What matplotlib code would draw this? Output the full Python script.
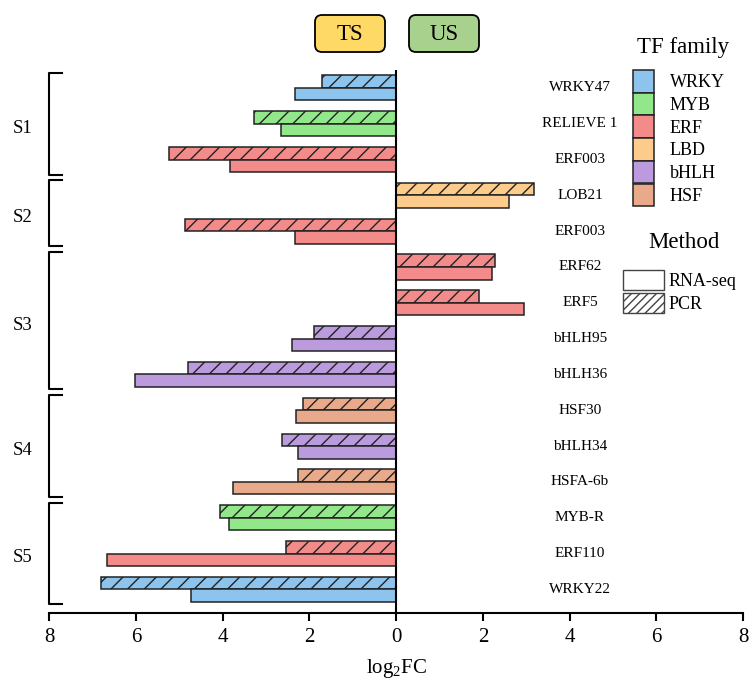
import matplotlib
matplotlib.use("Agg")
import matplotlib.pyplot as plt
from matplotlib.patches import Patch, FancyBboxPatch
from matplotlib.transforms import IdentityTransform
from matplotlib.ticker import FuncFormatter

plt.rcParams['font.family'] = 'serif'
plt.rcParams['font.serif'] = ['Liberation Serif', 'DejaVu Serif']
plt.rcParams['mathtext.fontset'] = 'stix'

# ---------------- data ----------------
genes = ['WRKY47', 'RELIEVE 1', 'ERF003', 'LOB21', 'ERF003', 'ERF62', 'ERF5',
         'bHLH95', 'bHLH36', 'HSF30', 'bHLH34', 'HSFA-6b', 'MYB-R', 'ERF110', 'WRKY22']
gene_family = ['WRKY', 'MYB', 'ERF', 'LBD', 'ERF', 'ERF', 'ERF',
               'bHLH', 'bHLH', 'HSF', 'bHLH', 'HSF', 'MYB', 'ERF', 'WRKY']
pcr_values = [-1.71, -3.29, -5.23, 3.18, -4.88, 2.27, 1.90,
              -1.90, -4.81, -2.14, -2.64, -2.27, -4.06, -2.53, -6.81]
rnaseq_values = [-2.33, -2.65, -3.83, 2.60, -2.34, 2.22, 2.94,
                 -2.40, -6.03, -2.32, -2.27, -3.77, -3.86, -6.66, -4.73]
groups = ['S1', 'S2', 'S3', 'S4', 'S5']
group_sizes = [3, 2, 4, 3, 3]
families = ['WRKY', 'MYB', 'ERF', 'LBD', 'bHLH', 'HSF']
family_colors = ['#8DC4EE', '#93E78B', '#F38B8B', '#FDCB8C', '#BB9BDD', '#E8AA8A']
methods = ['RNA-seq', 'PCR']
xticks = [-8, -6, -4, -2, 0, 2, 4, 6, 8]

color_of = dict(zip(families, family_colors))

fig = plt.figure(figsize=(7.49, 6.84), dpi=100)
W, H = 749, 684
ax = fig.add_axes([49.3 / W, 1 - 613 / H, (743 - 49.3) / W, (613 - 70) / H])

bh = 0.35
ys = list(range(len(genes)))
cols = [color_of[f] for f in gene_family]
ax.barh([y - bh / 2 for y in ys], pcr_values, height=bh, color=cols,
        edgecolor='#222222', linewidth=1.1, hatch='//', zorder=2)
ax.barh([y + bh / 2 for y in ys], rnaseq_values, height=bh, color=cols,
        edgecolor='#222222', linewidth=1.1, zorder=2)

ax.set_xlim(-8, 8)
ax.set_ylim(len(genes) - 0.34, -0.5)
ax.axvline(0, color='black', lw=1.5, zorder=3)

for s in ['left', 'right', 'top']:
    ax.spines[s].set_visible(False)
ax.spines['bottom'].set_linewidth(1.5)
ax.set_yticks([])
ax.set_xticks(xticks)
ax.xaxis.set_major_formatter(FuncFormatter(lambda v, p: f"{abs(v):g}"))
ax.tick_params(axis='x', direction='out', length=6, width=1.5, labelsize=15, pad=5)
ax.set_xlabel(r'$\mathregular{log_2FC}$', fontsize=15, labelpad=7)

# gene labels
for y, g in zip(ys, genes):
    ax.text(4.24, y, g, ha='center', va='center', fontsize=11)

# group brackets
start = 0
for name, n in zip(groups, group_sizes):
    top = start - 0.42
    bot = start + n - 1 + 0.42
    ax.plot([-7.71, -8.01, -8.01, -7.71], [top, top, bot, bot], color='black',
            lw=1.5, clip_on=False, solid_joinstyle='round')
    ax.text(-8.62, (top + bot) / 2 + 0.12, name, ha='center', va='center', fontsize=13.5)
    start += n

# TS / US header boxes (pixel coordinates)
for label, cx, fc in [('TS', 350, '#FFD966'), ('US', 444, '#A9D18E')]:
    box = FancyBboxPatch((cx - 35, H - 52), 70, 37, boxstyle='round,pad=0,rounding_size=7',
                         facecolor=fc, edgecolor='black', linewidth=1.3,
                         transform=IdentityTransform())
    fig.patches.append(box)
    box.set_figure(fig)
    fig.text(cx / W, 1 - 34 / H, label, ha='center', va='center', fontsize=16.5)

# legends
fs = 13
px = fs * 100 / 72


def hh(target_px):
    # legend patch height = fs*(0.65*handleheight + 0.245)
    return (target_px / px - 0.245) / 0.65


fig.text(683 / W, 1 - 47 / H, 'TF family', ha='center', va='center', fontsize=16.5)
fam_handles = [Patch(facecolor=c, edgecolor='#222222', linewidth=1.1) for c in family_colors]
leg1 = fig.legend(fam_handles, families, loc='upper left',
                  bbox_to_anchor=(633 / W, 1 - 70 / H), frameon=False, borderpad=0,
                  borderaxespad=0, handlelength=21 / px, handleheight=hh(22.7),
                  labelspacing=0, handletextpad=16 / px, fontsize=fs)

fig.text(684 / W, 1 - 242 / H, 'Method', ha='center', va='center', fontsize=16.5)
meth_handles = [Patch(facecolor='white', edgecolor='#444444', linewidth=1.0),
                Patch(facecolor='white', edgecolor='#444444', linewidth=1.0, hatch='////')]
leg2 = fig.legend(meth_handles, methods, loc='upper left',
                  bbox_to_anchor=(623 / W, 1 - 270 / H), frameon=False, borderpad=0,
                  borderaxespad=0, handlelength=41 / px, handleheight=hh(20),
                  labelspacing=3 / px, handletextpad=5 / px, fontsize=fs)

fig.savefig('out.png', dpi=100)
